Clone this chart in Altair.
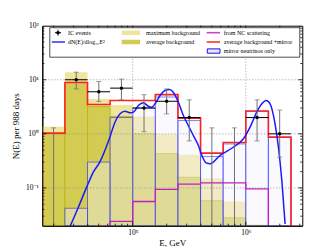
import altair as alt
import pandas as pd

# ---------------- data ----------------
edges = [15849, 25119, 39811, 63096, 100000, 158489, 251189, 398107,
         630957, 1000000, 1584893, 2511886]
max_bkg = [1.35, 13.7, 4.4, 3.4, 2.1, 0.98, 0.41, 0.15, 0.056, 0.021, 0]
avg_bkg = [1.0, 8.9, 3.18, 2.1, 1.0, 0.43, 0.157, 0.058, 0.028, 0.012, 0]
mirror = [0, 0.042, 0.30, 2.0, 3.0, 4.8, 1.76, 0.38, 0.65, 2.6, 0.86]
avg_plus_mirror = [1.03, 8.9, 3.48, 4.14, 4.14, 5.3, 1.95, 0.44, 0.69, 2.65, 0.87]
nc_scatter = [0, 0, 0, 0.024, 0.056, 0.094, 0.117, 0.124, 0.124, 0.096, 0]

ic_counts = [0, 10, 6, 7, 3, 4, 2, 0, 0, 2, 1]
ic_low = [0, 6.78, 3.95, 4.25, 1.10, 2.34, 0.74, 0, 0, 0.74, 0.37]
ic_high = [1.29, 13.81, 9.28, 10.3, 5.3, 6.78, 4.25, 1.29, 1.29, 4.25, 2.75]

curve_logE = [4.43, 4.445, 4.519, 4.598, 4.651, 4.711, 4.793, 4.843, 4.888,
              4.932, 4.976, 5.01, 5.050, 5.094, 5.138, 5.168, 5.197, 5.242,
              5.286, 5.324, 5.359, 5.404, 5.448, 5.492, 5.536, 5.581, 5.611,
              5.649, 5.684, 5.773, 5.890, 5.979, 6.038, 6.097, 6.142, 6.180,
              6.215, 6.259, 6.289, 6.319, 6.348]
curve_N = [0.017, 0.0195, 0.044, 0.110, 0.195, 0.307, 0.81, 1.64, 2.35,
           2.62, 2.45, 2.55, 3.34, 3.75, 3.24, 3.11, 3.59, 5.12,
           6.34, 6.61, 5.89, 3.85, 2.18, 1.42, 0.93, 0.61, 0.40,
           0.29, 0.28, 0.40, 0.565, 0.81, 1.33, 2.51, 3.59, 4.14,
           3.59, 1.53, 0.565, 0.136, 0.0215]

x_major = [1e5, 1e6]
y_major = [0.1, 1, 10]

# ---------------- layout / style ----------------
W, H = 260, 200
FLOOR = 1e-3
FONT = "Liberation Serif"

lo = edges[:-1]
hi = edges[1:]
ctr = [(a * b) ** 0.5 for a, b in zip(lo, hi)]

xs = alt.Scale(type="log", domain=[15849, 3162278], nice=False)
ys = alt.Scale(type="log", domain=[0.02, 100], nice=False)
xaxis = alt.Axis(values=x_major, title="E, GeV", grid=False, ticks=False,
                 labelExpr="datum.value == 100000 ? '10⁵' : '10⁶'",
                 labelPadding=3, titleY=20, titleBaseline="alphabetic",
                 labelFlush=False, zindex=1)
yaxis = alt.Axis(values=[0.1, 1, 10, 100], title="N(E)  per 988 days", grid=False,
                 ticks=False, labelFlush=False,
                 labelExpr="datum.value >= 100 ? '10²' : datum.value >= 10 ? '10¹' : datum.value >= 1 ? '10⁰' : '10⁻¹'",
                 labelPadding=4, titlePadding=5, zindex=1)


def X(f):
    return alt.X(f, type="quantitative", scale=xs, axis=xaxis)


def Y(f):
    return alt.Y(f, type="quantitative", scale=ys, axis=yaxis)


bins = pd.DataFrame({"lo": lo, "hi": hi, "maxb": max_bkg, "avgb": avg_bkg,
                     "mir": mirror})

MIR_FILL = "#f2f2fc"

max_layer = alt.Chart(bins[bins.maxb > 0]).mark_rect(
    fill="#f0e59c", clip=True).encode(x=X("lo"), x2="hi", y=Y("maxb"),
                                       y2=alt.value(H))
avg_layer = alt.Chart(bins[bins.avgb > 0]).mark_rect(
    fill="#d3cc52", stroke="#bdb620", strokeWidth=1, clip=True).encode(
    x=X("lo"), x2="hi", y=Y("avgb"), y2=alt.value(H))
mir_layer = alt.Chart(bins[bins.mir > 0]).mark_rect(
    fill=MIR_FILL, fillOpacity=0.4, stroke="#2b2bff", strokeOpacity=0.6,
    strokeWidth=1, clip=True).encode(x=X("lo"), x2="hi", y=Y("mir"),
                                      y2=alt.value(H))


def step_df(vals):
    idx = [i for i, v in enumerate(vals) if v > 0]
    a, b = idx[0], idx[-1]
    rows = [(lo[a], FLOOR)]
    for i in range(a, b + 1):
        rows.append((lo[i], vals[i]))
        rows.append((hi[i], vals[i]))
    rows.append((hi[b], FLOOR))
    return pd.DataFrame({"e": [r[0] for r in rows], "n": [r[1] for r in rows],
                         "k": list(range(len(rows)))})


nc_layer = alt.Chart(step_df(nc_scatter)).mark_line(
    color="#c21fc2", strokeWidth=1.3, clip=True).encode(
    x=X("e"), y=Y("n"), order="k:Q")
red_layer = alt.Chart(step_df(avg_plus_mirror)).mark_line(
    color="#ff2020", strokeWidth=1.6, clip=True).encode(
    x=X("e"), y=Y("n"), order="k:Q")

curve = pd.DataFrame({"e": [10 ** v for v in curve_logE], "n": curve_N})
curve_layer = alt.Chart(curve).mark_line(
    color="#1a1aff", strokeWidth=1.5, clip=True, interpolate="monotone").encode(
    x=X("e"), y=Y("n"))

# grid
gx = alt.Chart(pd.DataFrame({"v": x_major})).mark_rule(
    color="#888888", strokeDash=[1, 2], strokeWidth=0.8).encode(
    x=X("v"), y=alt.value(0), y2=alt.value(H))
gy = alt.Chart(pd.DataFrame({"v": y_major})).mark_rule(
    color="#888888", strokeDash=[1, 2], strokeWidth=0.8).encode(
    y=Y("v"), x=alt.value(0), x2=alt.value(W))

# IC events
ic = pd.DataFrame({"c": ctr, "lo": lo, "hi": hi, "n": ic_counts,
                   "elo": [max(v, FLOOR) for v in ic_low], "ehi": ic_high})
ic_v = alt.Chart(ic).mark_rule(color="#707070", strokeWidth=1, clip=True).encode(
    x=X("c"), y=Y("elo"), y2="ehi")
ic_cap_hi = alt.Chart(ic).mark_tick(color="#707070", orient="horizontal",
                                    size=5, thickness=1).encode(x=X("c"), y=Y("ehi"))
ic_cap_lo = alt.Chart(ic[ic.elo > 0.02]).mark_tick(
    color="#707070", orient="horizontal", size=5, thickness=1).encode(
    x=X("c"), y=Y("elo"))
icp = ic[ic.n > 0]
ic_h = alt.Chart(icp).mark_rule(color="black", strokeWidth=1).encode(
    x=X("lo"), x2="hi", y=Y("n"))
ic_pt = alt.Chart(icp).mark_point(filled=True, color="black", size=12,
                                  opacity=1).encode(x=X("c"), y=Y("n"))

# inward ticks on all four sides
xt_min = [m * 10 ** k for k in (4, 5, 6) for m in range(2, 10)]
xt_min = [v for v in xt_min if 15849 < v < 3162278]
yt_min = [m * 10 ** k for k in (-2, -1, 0, 1) for m in range(2, 10)]
yt_min = [v for v in yt_min if 0.02 < v < 100]
ticks = []
for vals, L in ((x_major, 4), (xt_min, 2)):
    d = pd.DataFrame({"v": vals})
    ticks.append(alt.Chart(d).mark_rule(color="black", strokeWidth=0.8).encode(
        x=X("v"), y=alt.value(H), y2=alt.value(H - L)))
    ticks.append(alt.Chart(d).mark_rule(color="black", strokeWidth=0.8).encode(
        x=X("v"), y=alt.value(0), y2=alt.value(L)))
for vals, L in ((y_major, 4), (yt_min, 2)):
    d = pd.DataFrame({"v": vals})
    ticks.append(alt.Chart(d).mark_rule(color="black", strokeWidth=0.8).encode(
        y=Y("v"), x=alt.value(0), x2=alt.value(L)))
    ticks.append(alt.Chart(d).mark_rule(color="black", strokeWidth=0.8).encode(
        y=Y("v"), x=alt.value(W), x2=alt.value(W - L)))

# ---------------- legend (drawn in pixel space) ----------------
one = pd.DataFrame({"a": [0]})
leg = [alt.Chart(one).mark_rect(fill="white", stroke="#222222", strokeWidth=0.8).encode(
    x=alt.value(7.5), x2=alt.value(257.5), y=alt.value(2), y2=alt.value(31.5))]
rows_y = [7, 16.3, 25.3]


def lrule(x1, x2, y1, y2, color, w):
    return alt.Chart(one).mark_rule(color=color, strokeWidth=w).encode(
        x=alt.value(x1), x2=alt.value(x2), y=alt.value(y1), y2=alt.value(y2))


def lbox(x1, x2, y1, y2, **kw):
    return alt.Chart(one).mark_rect(**kw).encode(
        x=alt.value(x1), x2=alt.value(x2), y=alt.value(y1), y2=alt.value(y2))


def ltext(x, y, s):
    return alt.Chart(one).mark_text(align="left", baseline="middle", font=FONT,
                                    fontSize=6, color="black").encode(
        x=alt.value(x), y=alt.value(y), text=alt.value(s))


# IC events symbol
leg.append(lrule(15.7, 15.7, 3.8, 10.2, "#555555", 1))
leg.append(lrule(12.7, 18.7, 7, 7, "black", 1))
leg.append(alt.Chart(one).mark_point(filled=True, color="black", size=12, opacity=1).encode(
    x=alt.value(15.7), y=alt.value(7)))
leg.append(ltext(25.7, rows_y[0], "IC events"))
leg.append(lrule(9.5, 22.7, rows_y[1], rows_y[1], "#3a3aff", 1.6))
leg.append(ltext(25.7, rows_y[1], "dN(E)/dlog₁₀E²"))
leg.append(lbox(79.4, 97.7, 4.8, 9.3, fill="#f0e59c"))
leg.append(ltext(103.7, rows_y[0], "maximum background"))
leg.append(lbox(79.4, 97.7, 14.1, 18.6, fill="#d3cc52"))
leg.append(ltext(103.7, rows_y[1], "average background"))
leg.append(lrule(164.4, 177.7, rows_y[0], rows_y[0], "#d040d0", 1.6))
leg.append(ltext(181.5, rows_y[0], "from NC scattering"))
leg.append(lrule(164.4, 177.7, rows_y[1], rows_y[1], "#ff3030", 1.6))
leg.append(ltext(181.5, rows_y[1], "average background +mirror"))
leg.append(lbox(165, 177.7, 23.2, 27.5, fill="#e8e8f8", stroke="#1010ee", strokeWidth=1))
leg.append(ltext(181.5, rows_y[2], "mirror neutrinos only"))

chart = alt.layer(
    max_layer, avg_layer, mir_layer, gx, gy, nc_layer, red_layer,
    curve_layer, ic_v, ic_cap_hi, ic_cap_lo, ic_h, ic_pt, *ticks, *leg
).properties(
    width=W, height=H,
    autosize=alt.AutoSizeParams(type="none"),
    padding={"left": 34.3, "top": 17.7, "right": 25.7, "bottom": 25},
).configure_view(stroke="black", strokeWidth=1).configure_axis(
    labelFont=FONT, labelFontSize=7.5, labelColor="black",
    titleFont=FONT, titleFontSize=9, titleFontWeight="normal", titleColor="black",
    domainColor="black", domainWidth=1,
)

chart.save("out.html", embed_options={"renderer": "svg", "actions": False})
